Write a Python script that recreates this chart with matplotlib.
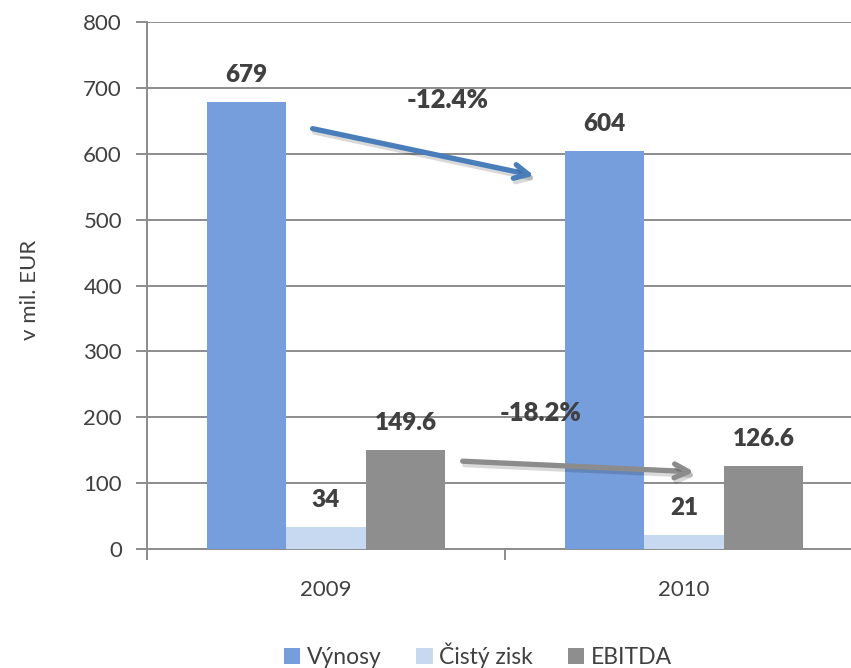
import matplotlib.pyplot as plt
import matplotlib.patheffects as pe
import numpy as np

plt.rcParams['font.family'] = ['Lato', 'DejaVu Sans']

years = ["2009", "2010"]
series = ["Výnosy", "Čistý zisk", "EBITDA"]
vynosy = [679, 604]
cisty_zisk = [34, 21]
ebitda = [149.6, 126.6]
value_labels = [["679", "604"], ["34", "21"], ["149.6", "126.6"]]
changes = ["-12.4%", "-18.2%"]

colors = ["#769ddc", "#c6d9f0", "#8e8e8e"]
text_col = "#404040"
grid_col = "#8c8c8c"

fig = plt.figure(figsize=(8.51, 6.68), dpi=100)
# axes runs a little past the right edge of the figure
ax = fig.add_axes([147 / 851, 1 - 549 / 668, 716 / 851, 527 / 668])

x = np.arange(len(years))
w = 1 / 4.5
data = [vynosy, cisty_zisk, ebitda]
for i, (vals, name) in enumerate(zip(data, series)):
    pos = x + (i - 1) * w
    ax.bar(pos, vals, width=w, color=colors[i], label=name, zorder=3)
    for p, v, lab in zip(pos, vals, value_labels[i]):
        ax.annotate(lab, (p, v), xytext=(0, 19.5), textcoords="offset points",
                    ha="center", va="center", fontsize=17.5, fontweight="heavy",
                    color=text_col, zorder=5)

ax.set_xlim(-0.5, 1.5)
ax.set_ylim(0, 800)
ax.set_yticks(range(0, 801, 100))
ax.yaxis.grid(True, color=grid_col, linewidth=1.4, zorder=0)
ax.set_axisbelow(True)

ax.set_xticks(x)
ax.set_xticklabels(years)
ax.set_xticks([-0.5, 0.5, 1.5], minor=True)
ax.tick_params(axis="x", which="major", length=0, pad=22, labelsize=16, labelcolor=text_col)
ax.tick_params(axis="x", which="minor", length=8, width=1.4, color=grid_col)
ax.tick_params(axis="y", length=8, width=1.4, color=grid_col, pad=10,
               labelsize=16, labelcolor=text_col)

for side in ["top", "right"]:
    ax.spines[side].set_visible(False)
for side in ["left", "bottom"]:
    ax.spines[side].set_color(grid_col)
    ax.spines[side].set_linewidth(1.4)

fig.text(30 / 851, 1 - 290 / 668, "v mil. EUR", rotation=90, ha="center", va="center",
         fontsize=16, color=text_col)

# trend arrows between the years
shadow = [pe.SimpleLineShadow(offset=(1.5, -2.5), shadow_color="#000000", alpha=0.15), pe.Normal()]
ax.annotate("", xy=(0.589, 566), xytext=(-0.045, 639),
            arrowprops=dict(arrowstyle="->,head_length=1.0,head_width=0.5",
                            color="#4a7ebb", lw=3.8, path_effects=shadow), zorder=6)
ax.annotate("", xy=(1.036, 117), xytext=(0.374, 133.5),
            arrowprops=dict(arrowstyle="->,head_length=1.0,head_width=0.5",
                            color="#8c8c8c", lw=3.8, path_effects=shadow), zorder=6)
ax.text(0.341, 681, changes[0], ha="center", va="center", fontsize=18.5,
        fontweight="heavy", color=text_col, zorder=6)
ax.text(0.598, 206, changes[1], ha="center", va="center", fontsize=18.5,
        fontweight="heavy", color=text_col, zorder=6)

fig.legend(loc="center", bbox_to_anchor=(478 / 851, 1 - 655 / 668), ncol=3, frameon=False,
           fontsize=16.5, handlelength=0.7, handleheight=0.7, handletextpad=0.3,
           columnspacing=1.5, labelcolor=text_col)

fig.savefig("out.png", dpi=100)
